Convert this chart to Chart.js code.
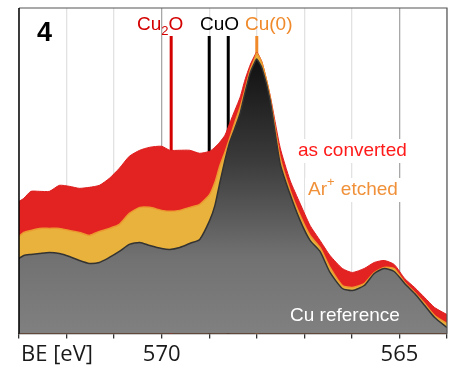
<!DOCTYPE html>
<html>
<head>
  <meta charset="UTF-8">
  <title>Cu LMM</title>
  <style>
    html, body { margin: 0; padding: 0; background: #fff; }
    #wrap { width: 454px; height: 379px; }
  </style>
</head>
<body>
<div id="wrap">
  <canvas id="myChart" width="454" height="379"></canvas>
</div>
<script src="https://cdn.jsdelivr.net/npm/chart.js"></script>
<script>
// binding energy (eV), high -> low
const be = [573.0, 572.9, 572.75, 572.57, 572.36, 572.15, 571.94, 571.73, 571.52, 571.31,
            571.1, 570.89, 570.68, 570.46, 570.25, 570.0, 569.83, 569.62, 569.41, 569.2,
            568.99, 568.88, 568.78, 568.67, 568.57, 568.46, 568.35, 568.25, 568.14, 568.04,
            568.0, 567.89, 567.72, 567.51, 567.3, 567.09, 566.88, 566.67, 566.46, 566.2,
            565.99, 565.74, 565.53, 565.32, 565.11, 564.89, 564.68, 564.47, 564.26, 564.0];

const asConverted = [132, 135, 142, 142, 142, 148, 147, 145, 146, 148,
                     155, 165, 177, 183, 186, 187, 183, 183, 183, 180,
                     182, 186, 191, 198, 210, 223, 236, 253, 268, 278,
                     281, 271, 238, 186, 153, 130, 108, 93, 78, 65,
                     61, 65, 71, 73, 69, 55, 46, 36, 26, 19];

const arEtched = [97, 101, 103, 105, 105, 105, 103, 101, 98, 102,
                  105, 109, 120, 126, 126, 123, 122, 123, 126, 129,
                  139, 151, 167, 181, 195, 211, 226, 243, 263, 275,
                  280, 270, 236, 176, 143, 118, 98, 86, 66, 48,
                  46, 50, 61, 66, 65, 51, 41, 30, 18, 10];

const cuRef = [75, 78, 79, 80, 81, 80, 77, 73, 70, 71,
               76, 82, 89, 91, 88, 85, 84, 86, 90, 94,
               113, 128, 150, 173, 191, 205, 220, 240, 260, 271,
               274, 265, 233, 170, 139, 113, 93, 82, 61, 45,
               43, 48, 60, 65, 62, 50, 40, 28, 16, 6];

// reference positions
const refNames = ['Cu2O', 'CuO', 'CuO', 'Cu(0)'];
const refPos = [569.8, 569.0, 568.6, 568.0];
const refColors = ['#d40000', '#000000', '#000000', '#f0892a'];
const refTop = 297;

const labeledTicks = [570, 565];

function pts(arr) {
  return be.map((x, i) => ({x: x, y: arr[i]}));
}

function greyFill(context) {
  const chart = context.chart;
  const area = chart.chartArea;
  if (!area) return '#777';
  const y = chart.scales.y;
  const top = y.getPixelForValue(275);
  const g = chart.ctx.createLinearGradient(0, top, 0, area.bottom);
  g.addColorStop(0, '#101010');
  g.addColorStop(0.38, '#3c3c3c');
  g.addColorStop(0.72, '#717171');
  g.addColorStop(1, '#808080');
  return g;
}

const datasets = [];
refPos.forEach((p, i) => {
  datasets.push({
    label: refNames[i],
    data: [{x: p, y: 0}, {x: p, y: refTop}],
    borderColor: refColors[i],
    borderWidth: 3,
    pointRadius: 0,
    fill: false,
    order: 10
  });
});
datasets.push({
  label: 'as converted',
  data: pts(asConverted),
  borderColor: '#df1f1f',
  backgroundColor: '#e32222',
  borderWidth: 1,
  pointRadius: 0,
  tension: 0.2,
  fill: 'origin',
  order: 3
});
datasets.push({
  label: 'Ar+ etched',
  data: pts(arEtched),
  borderColor: '#ec9a30',
  backgroundColor: '#e8b23c',
  borderWidth: 1.5,
  pointRadius: 0,
  tension: 0.2,
  fill: 'origin',
  order: 2
});
datasets.push({
  label: 'Cu reference',
  data: pts(cuRef),
  borderColor: '#333333',
  backgroundColor: greyFill,
  borderWidth: 1.5,
  pointRadius: 0,
  tension: 0.2,
  fill: 'origin',
  order: 1
});

const SANS = 'Arial, "Liberation Sans", sans-serif';

function boxText(c, txt, x, y) {
  const w = c.measureText(txt).width;
  c.fillStyle = '#fff';
  c.fillRect(x - 3, y - 12, w + 6, 24);
}

const textPlugin = {
  id: 'texts',
  beforeDatasetsDraw(chart) {
    const c = chart.ctx;
    c.save();
    c.textBaseline = 'middle';
    c.font = '19px ' + SANS;
    boxText(c, 'as converted', 298, 151);
    boxText(c, 'Ar+ etched', 308, 190);
    c.restore();
  },
  afterDatasetsDraw(chart) {
    const c = chart.ctx;
    const a = chart.chartArea;
    c.save();
    // frame
    c.strokeStyle = '#555';
    c.lineWidth = 1.2;
    c.beginPath();
    c.moveTo(a.left, a.top); c.lineTo(a.right, a.top); c.lineTo(a.right, a.bottom);
    c.stroke();
    c.strokeStyle = '#000';
    c.lineWidth = 1.5;
    c.beginPath();
    c.moveTo(a.left, a.top); c.lineTo(a.left, a.bottom);
    c.stroke();

    c.textBaseline = 'alphabetic';
    c.textAlign = 'left';
    c.fillStyle = '#000';
    c.font = 'bold 27px ' + SANS;
    c.fillText('4', 37, 41);

    // Cu2O
    c.font = '19px ' + SANS;
    c.fillStyle = '#d40000';
    let x = 137;
    c.fillText('Cu', x, 30); x += c.measureText('Cu').width;
    c.font = '13px ' + SANS;
    c.fillText('2', x, 35); x += c.measureText('2').width;
    c.font = '19px ' + SANS;
    c.fillText('O', x, 30);

    c.fillStyle = '#000';
    c.fillText('CuO', 200, 30);
    c.fillStyle = '#f0892a';
    c.fillText('Cu(0)', 245, 30);

    c.textBaseline = 'middle';
    c.fillStyle = '#ff1a1a';
    c.fillText('as converted', 298, 151);
    c.fillStyle = '#f0913a';
    x = 308;
    c.fillText('Ar', x, 190); x += c.measureText('Ar').width;
    c.font = '13px ' + SANS;
    c.fillText('+', x, 182); x += c.measureText('+').width + 1;
    c.font = '19px ' + SANS;
    c.fillText(' etched', x, 190);

    c.fillStyle = '#ffffff';
    c.fillText('Cu reference', 290, 316);

    c.fillStyle = '#1a1a1a';
    c.font = '22px "Open Sans", sans-serif';
    c.fillText('BE [eV]', 21, 355);
    c.restore();
  }
};

const config = {
  type: 'line',
  data: { datasets: datasets },
  options: {
    responsive: false,
    animation: false,
    layout: { padding: { left: 19, right: 7, top: 8, bottom: 8 } },
    plugins: { legend: { display: false }, tooltip: { enabled: false } },
    scales: {
      x: {
        type: 'linear',
        reverse: true,
        min: 564,
        max: 573,
        border: { color: '#333', width: 1.2 },
        grid: {
          color: (ctx) => (ctx.tick && labeledTicks.includes(ctx.tick.value)) ? '#a8a8a8' : '#e2e2e2',
          tickColor: '#333',
          tickLength: 5,
          lineWidth: 1.3
        },
        ticks: {
          stepSize: 1,
          autoSkip: false,
          maxRotation: 0,
          padding: 3,
          color: '#1a1a1a',
          font: { family: '"Open Sans", sans-serif', size: 22 },
          callback: (v) => labeledTicks.includes(v) ? String(v) : ''
        }
      },
      y: {
        display: false,
        min: 0,
        max: 325
      }
    }
  },
  plugins: [textPlugin]
};

const myChart = new Chart(document.getElementById('myChart'), config);
</script>
</body>
</html>
